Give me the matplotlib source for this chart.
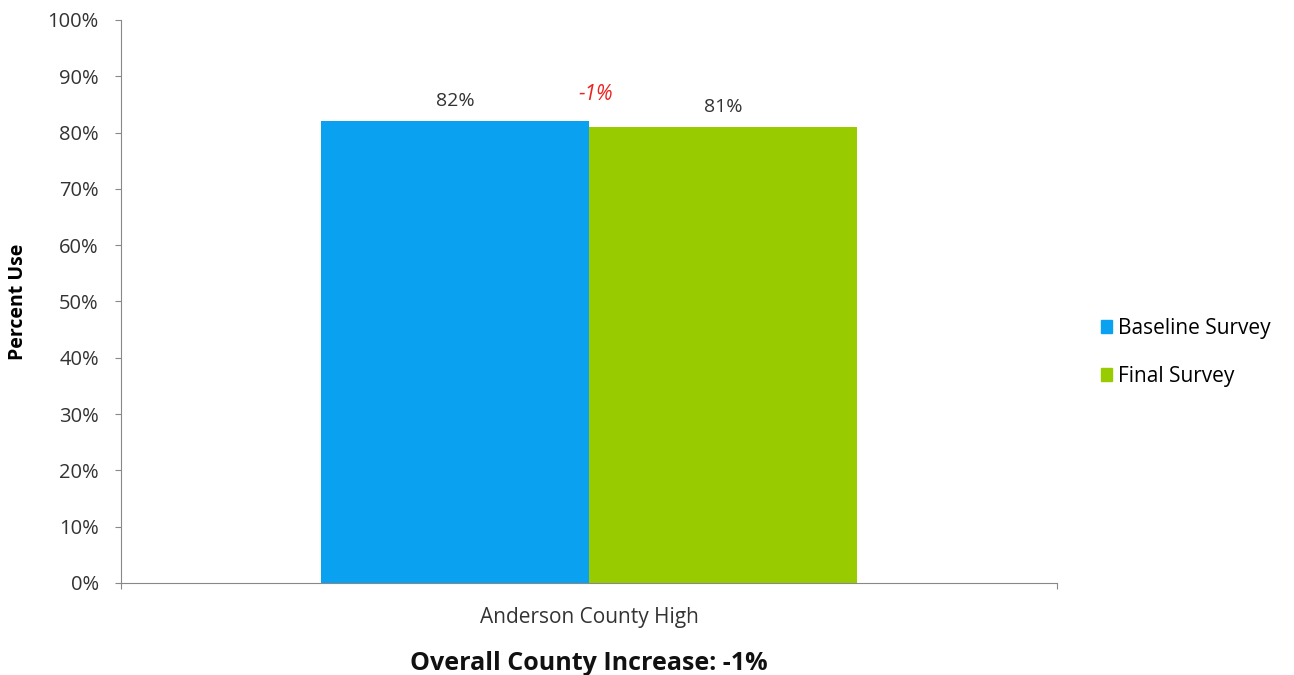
import numpy as np
import matplotlib.pyplot as plt
from matplotlib.patches import Patch

categories = ["Anderson County High"]
series_names = ["Baseline Survey", "Final Survey"]
baseline = [82]
final = [81]
change_labels = ["-1%"]
y_ticks = list(range(0, 101, 10))
footer = "Overall County Increase: -1%"

colors = ["#0aa2f0", "#99cc00"]

plt.rcParams["font.family"] = ["Open Sans", "DejaVu Sans"]

fig = plt.figure(figsize=(12.94, 6.75), dpi=100)
ax = fig.add_axes([0.0935, 0.1363, 0.7233, 0.8341])

x = np.arange(len(categories))
width = 0.2863
b1 = ax.bar(x - width / 2, baseline, width, color=colors[0], label=series_names[0])
b2 = ax.bar(x + width / 2, final, width, color=colors[1], label=series_names[1])

for bars, vals in ((b1, baseline), (b2, final)):
    for rect, v in zip(bars, vals):
        ax.annotate(f"{v}%", (rect.get_x() + rect.get_width() / 2, v),
                    xytext=(0, 8), textcoords="offset points",
                    ha="center", va="bottom", fontsize=14, color="#333333")

for xi, lab, v in zip(x, change_labels, baseline):
    ax.annotate(lab, (xi, v), xytext=(5, 12), textcoords="offset points",
                ha="center", va="bottom", fontsize=15, color="#ee2222", style="italic")

ax.set_xlim(-0.5, 0.5)
ax.set_ylim(0, 100)
ax.set_yticks(y_ticks)
ax.set_yticklabels([f"{t}%" for t in y_ticks], fontsize=14.5, color="#333333")
ax.set_xticks([-0.5, 0.5])
ax.set_xticklabels(["", ""])
ax.tick_params(axis="y", length=4, color="#888888", pad=12)
ax.tick_params(axis="x", length=4, color="#888888", direction="out")
ax.text(0, -0.062, categories[0], transform=ax.get_xaxis_transform(),
        ha="center", va="center", fontsize=15, color="#333333")
ax.text(0, -0.143, footer, transform=ax.get_xaxis_transform(),
        ha="center", va="center", fontsize=18, fontweight="bold", color="#111111")

ax.set_ylabel("Percent Use", fontsize=14, fontweight="bold")
ax.yaxis.set_label_coords(-0.099, 0.5)
for side in ("top", "right"):
    ax.spines[side].set_visible(False)
ax.spines["left"].set_color("#888888")
ax.spines["bottom"].set_color("#888888")

handles = [Patch(color=c, label=n) for c, n in zip(colors, series_names)]
fig.legend(handles=handles, loc="center left", bbox_to_anchor=(0.836, 0.478),
           frameon=False, fontsize=15, handlelength=0.55, handleheight=0.55,
           handletextpad=0.3, labelspacing=1.3)

fig.savefig("out.png", dpi=100)
